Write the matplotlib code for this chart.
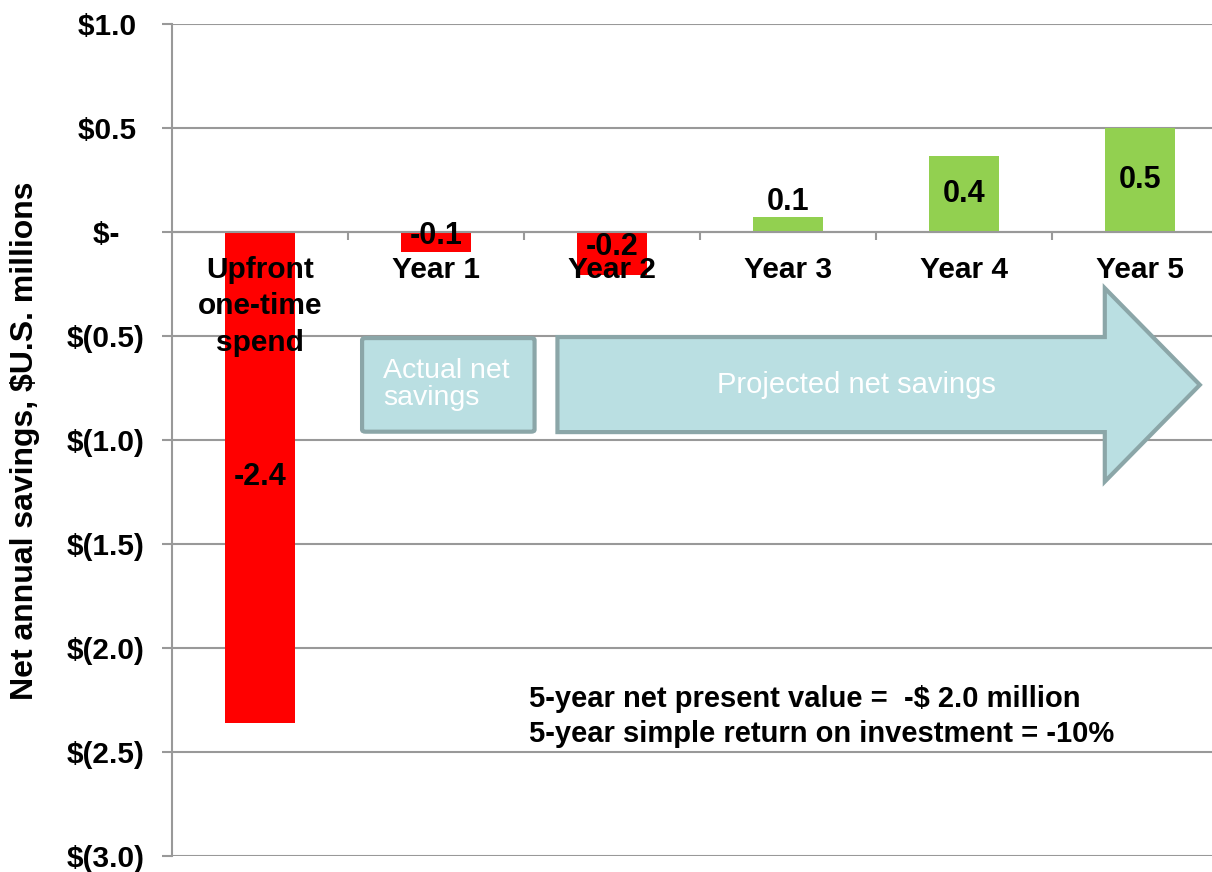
import numpy as np
import matplotlib.pyplot as plt
from matplotlib.patches import FancyBboxPatch, Polygon

plt.rcParams["font.family"] = ["Liberation Sans", "DejaVu Sans"]

# Net annual savings by period ($U.S. millions)
categories = ["Upfront\none-time\nspend", "Year 1", "Year 2", "Year 3", "Year 4", "Year 5"]
savings = [-2.36, -0.096, -0.207, 0.072, 0.365, 0.50]
bar_colors = ["#FF0000", "#FF0000", "#FF0000", "#92D050", "#92D050", "#92D050"]

y_ticks = [-3.0, -2.5, -2.0, -1.5, -1.0, -0.5, 0.0, 0.5, 1.0]
y_tick_labels = ["$(3.0)", "$(2.5)", "$(2.0)", "$(1.5)", "$(1.0)", "$(0.5)",
                 "$-   ", "$0.5 ", "$1.0 "]

grid_color = "#999999"

fig = plt.figure(figsize=(12.12, 8.72), dpi=100)
ax = fig.add_axes([172 / 1212, 16 / 872, 1040 / 1212, 832 / 872])

x = np.arange(len(categories))

# horizontal gridlines behind the bars
for yv in y_ticks:
    ax.axhline(yv, color=grid_color, lw=1.5, zorder=0)

ax.bar(x, savings, width=0.4, color=bar_colors, zorder=1)

# value labels: inside the bar, above it when the bar is too thin
for xi, v in zip(x, savings):
    if 0 < v < 0.1:
        ax.text(xi, v + 0.07, f"{v:.1f}", ha="center", va="center",
                fontsize=22, fontweight="bold", zorder=5)
    else:
        ax.text(xi, v / 2 + (0.03 if abs(v) < 0.3 else 0), f"{v:.1f}",
                ha="center", va="center", fontsize=22, fontweight="bold", zorder=5)

ax.set_xlim(-0.5, -0.5 + 1040 / 176)
ax.set_ylim(-3.0, 1.0)

# y axis
ax.set_yticks(y_ticks)
ax.set_yticklabels(y_tick_labels, fontsize=21.5, fontweight="bold")
ax.tick_params(axis="y", length=7, width=1.5, color=grid_color, pad=13)

# x axis sits on the zero line
ax.spines["bottom"].set_position(("data", 0))
ax.spines["bottom"].set_color(grid_color)
ax.spines["bottom"].set_linewidth(1.5)
ax.spines["left"].set_color(grid_color)
ax.spines["left"].set_linewidth(1.5)
ax.spines["top"].set_visible(False)
ax.spines["right"].set_visible(False)

ax.set_xticks(x)
ax.set_xticklabels(categories, fontsize=21.5, fontweight="bold", linespacing=1.4)
ax.tick_params(axis="x", length=0, pad=17)
ax.set_xticks(x[:-1] + 0.5, minor=True)
ax.tick_params(axis="x", which="minor", length=6, width=1.5, color=grid_color,
               direction="out")

fig.text(25 / 1212, 0.495, "Net annual savings, $U.S. millions", rotation=90,
         ha="center", va="center", fontsize=23, fontweight="bold")

# actual vs projected savings callouts
fill = "#BADFE2"
edge = "#8BA6A8"
actual = FancyBboxPatch((0.58, -0.96), 0.98, 0.45,
                        boxstyle="round,pad=0,rounding_size=0.02",
                        facecolor=fill, edgecolor=edge, lw=3, zorder=3,
                        mutation_aspect=0.5)
ax.add_patch(actual)
ax.text(0.70, -0.735, "Actual net\nsavings", ha="left", va="center",
        fontsize=20.5, color="white", linespacing=1.05, zorder=4)

projected = Polygon([(1.69, -0.505), (4.80, -0.505), (4.80, -0.27),
                     (5.34, -0.735), (4.80, -1.20), (4.80, -0.962),
                     (1.69, -0.962)],
                    closed=True, facecolor=fill, edgecolor=edge, lw=3,
                    joinstyle="miter", zorder=3)
ax.add_patch(projected)
ax.text(3.39, -0.735, "Projected net savings", ha="center", va="center",
        fontsize=21, color="white", zorder=4)

ax.text(1.53, -2.33, "5-year net present value =  -$ 2.0 million\n"
        "5-year simple return on investment = -10%",
        ha="left", va="center", fontsize=21, fontweight="bold",
        linespacing=1.3, zorder=4)

fig.savefig("out.png", dpi=100)
